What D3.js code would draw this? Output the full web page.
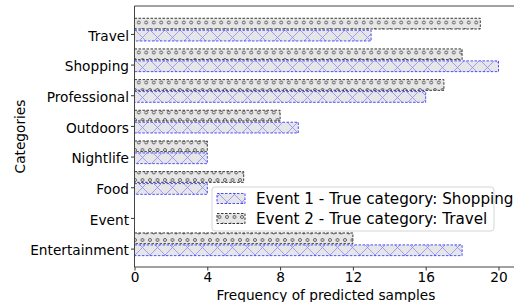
<!DOCTYPE html>
<html>
<head>
<meta charset="utf-8">
<script src="https://cdn.jsdelivr.net/npm/d3@7/dist/d3.min.js"></script>
<style>
  html, body { margin: 0; padding: 0; background: #fff; }
  svg { display: block; }
  text { font-family: "DejaVu Sans", sans-serif; fill: #000; }
</style>
</head>
<body>
<svg id="chart" width="514" height="302"></svg>
<script>
const categories = ["Entertainment", "Event", "Food", "Nightlife", "Outdoors", "Professional", "Shopping", "Travel"];
const event1 = [18, 0, 4, 4, 9, 16, 20, 13];
const event2 = [12, 0, 6, 4, 8, 17, 18, 19];
const xTicks = [0, 4, 8, 12, 16, 20];
const seriesNames = ["Event 1 - True category: Shopping", "Event 2 - True category: Travel"];
const xLabel = "Frequency of predicted samples";
const yLabel = "Categories";

(function () {
const svg = d3.select("#chart");
const pLeft = 134.5, pTop = 6, pBottom = 267, pRight = 516.7;

const x = d3.scaleLinear().domain([0, 21]).range([pLeft, pRight]);
const y = d3.scaleLinear().domain([-0.6, 7.91]).range([pBottom, pTop]);

const defs = svg.append("defs");
const px = defs.append("pattern").attr("id", "hatchX").attr("patternUnits", "userSpaceOnUse")
  .attr("width", 15).attr("height", 15);
px.append("rect").attr("width", 15).attr("height", 15).attr("fill", "#e6e6e6");
px.append("path").attr("d", "M0,0L15,15M0,15L15,0M-1,1L1,-1M14,16L16,14")
  .attr("stroke", "#8a8aff").attr("stroke-width", 0.8).attr("fill", "none");
const po = defs.append("pattern").attr("id", "hatchO").attr("patternUnits", "userSpaceOnUse")
  .attr("width", 7.5).attr("height", 15);
po.append("rect").attr("width", 7.5).attr("height", 15).attr("fill", "#e6e6e6");
[[0,0],[7.5,0],[0,15],[7.5,15],[3.75,7.5]].forEach(([cx, cy]) => {
  po.append("circle").attr("cx", cx).attr("cy", cy).attr("r", 1.5)
    .attr("fill", "none").attr("stroke", "#444").attr("stroke-width", 0.8);
});

const idx = d3.range(categories.length);
const g = svg.append("g");

g.selectAll("rect.e1").data(idx.filter(i => event1[i] > 0)).join("rect")
  .attr("class", "e1")
  .attr("x", x(0))
  .attr("y", i => y(i + 0.12))
  .attr("width", i => x(event1[i]) - x(0))
  .attr("height", i => y(i - 0.23) - y(i + 0.12))
  .attr("fill", "url(#hatchX)")
  .attr("stroke", "#3a3aff").attr("stroke-width", 0.9).attr("stroke-dasharray", "2.5,1.5");

g.selectAll("rect.e2").data(idx.filter(i => event2[i] > 0)).join("rect")
  .attr("class", "e2")
  .attr("x", x(0))
  .attr("y", i => y(i + 0.51))
  .attr("width", i => x(event2[i]) - x(0))
  .attr("height", i => y(i + 0.16) - y(i + 0.51))
  .attr("fill", "url(#hatchO)")
  .attr("stroke", "#222").attr("stroke-width", 0.9).attr("stroke-dasharray", "2.5,1.5");

const xAxis = svg.append("g").attr("transform", `translate(0,${pBottom})`)
  .call(d3.axisBottom(x).tickValues(xTicks).tickSize(3.5).tickPadding(2).tickSizeOuter(0));
xAxis.select(".domain").remove();
xAxis.selectAll("text").style("font-size", "13.7px").attr("fill", "#000");
xAxis.selectAll("line").attr("stroke", "#333");

const yAxis = svg.append("g").attr("transform", `translate(${pLeft},0)`)
  .call(d3.axisLeft(y).tickValues(idx).tickFormat(i => categories[i]).tickSize(3.5).tickPadding(2).tickSizeOuter(0));
yAxis.select(".domain").remove();
yAxis.selectAll("text").style("font-size", "13.7px").attr("fill", "#000").attr("dy", "0.45em");
yAxis.selectAll("line").attr("stroke", "#333");

const sp = svg.append("g").attr("stroke", "#444").attr("stroke-width", 1).attr("fill", "none");
sp.append("line").attr("x1", pLeft).attr("x2", pLeft).attr("y1", pTop).attr("y2", pBottom);
sp.append("line").attr("x1", pLeft).attr("x2", pRight).attr("y1", pBottom).attr("y2", pBottom);
sp.append("line").attr("x1", pLeft).attr("x2", pRight).attr("y1", pTop).attr("y2", pTop);

svg.append("text").attr("x", 326).attr("y", 299.5)
  .attr("text-anchor", "middle").style("font-size", "13.7px").text(xLabel);
svg.append("text").attr("transform", `translate(25,${(pTop + pBottom) / 2}) rotate(-90)`)
  .attr("text-anchor", "middle").style("font-size", "13.7px").text(yLabel);

const lg = svg.append("g").attr("transform", "translate(212,187)");
lg.append("rect").attr("width", 282).attr("height", 44).attr("rx", 3)
  .attr("fill", "rgba(255,255,255,0.8)").attr("stroke", "#d5d5d5").attr("stroke-width", 1);
const fills = ["url(#hatchX)", "url(#hatchO)"];
const strokes = ["#3a3aff", "#222"];
seriesNames.forEach((name, k) => {
  const cy = 11.5 + k * 20;
  lg.append("rect").attr("x", 5).attr("y", cy - 5).attr("width", 28).attr("height", 10)
    .attr("fill", fills[k]).attr("stroke", strokes[k]).attr("stroke-width", 0.9).attr("stroke-dasharray", "2.5,1.5");
  lg.append("text").attr("x", 44).attr("y", cy + 5.4).style("font-size", "15.2px").text(name);
});
})();
</script>
</body>
</html>
